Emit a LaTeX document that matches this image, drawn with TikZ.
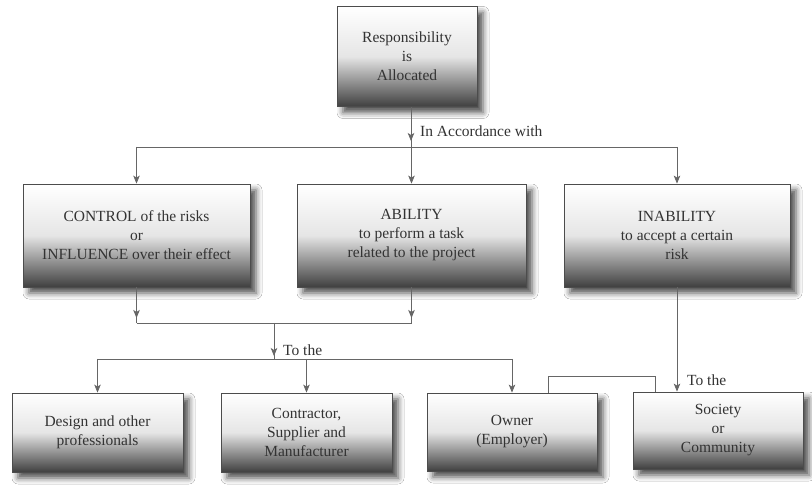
\documentclass[tikz,border=0pt]{standalone}
\usepackage{fontspec}
\setmainfont{Liberation Serif}
\usetikzlibrary{arrows.meta,shadows.blur,decorations.markings,calc}
\begin{document}
\begin{tikzpicture}[x=1pt,y=-1pt,
  box/.style={draw=black!70, line width=0.8pt, top color=white, bottom color=black!75, middle color=black!10,
    blur shadow={shadow xshift=6pt, shadow yshift=-6pt, shadow blur radius=6pt, shadow opacity=70},
    align=center, font=\fontsize{15.5}{19}\selectfont, text=black!80, inner sep=0pt},
  conn/.style={draw=black!60, line width=0.8pt},
  tip/.style={-{Stealth[length=8pt,width=6.5pt,inset=2pt]}},
  midtip/.style={postaction={decorate}, decoration={markings, mark=at position #1 with {\arrow{Stealth[length=8pt,width=6.5pt,inset=2pt]}}}},
  lab/.style={font=\fontsize{15.5}{19}\selectfont, text=black!80, anchor=west, inner sep=0pt}
]
\fill[white] (0,0) rectangle (812,486);
\useasboundingbox (0,0) rectangle (812,486);

\node[box, minimum width=140pt, minimum height=100pt] (top) at (407,56.5) {Responsibility\\is\\Allocated};

\node[box, minimum width=227pt, minimum height=103pt] (mid1) at (136.5,235.5) {CONTROL of the risks\\or\\INFLUENCE over their effect};
\node[box, minimum width=229pt, minimum height=103pt] (mid2) at (411.5,235.5) {ABILITY\\to perform a task\\related to the project};
\node[box, minimum width=226pt, minimum height=103pt] (mid3) at (677,235.5) {INABILITY\\to accept a certain\\risk};

\node[box, minimum width=171pt, minimum height=79pt] (bA) at (97.5,432.5) {Design and other\\professionals};
\node[box, minimum width=171pt, minimum height=79pt] (bB) at (306.5,432.5) {Contractor,\\Supplier and\\Manufacturer};
\node[box, minimum width=170pt, minimum height=78pt] (bC) at (512,432) {Owner\\(Employer)};
\node[box, minimum width=170pt, minimum height=77pt] (bD) at (718,430.5) {Society\\or\\Community};

\coordinate (j1) at (411,147);
\coordinate (j2) at (274,323);
\coordinate (j3) at (274,359);
\coordinate (k1) at (548,376);
\coordinate (k2) at (655,376);

% top to middle row
\draw[conn, midtip=-6pt] (top.south -| j1) -- (j1);
\draw[conn] (j1 -| mid1.north) -- (j1 -| mid3.north);
\draw[conn, tip] (j1 -| mid1.north) -- (mid1.north);
\draw[conn, tip] (j1 -| mid2.north) -- (mid2.north);
\draw[conn, tip] (j1 -| mid3.north) -- (mid3.north);

% middle row to bottom row
\draw[conn, midtip=-5pt] (mid1.south) -- (mid1.south |- j2);
\draw[conn, midtip=-5pt] (mid2.south) -- (mid2.south |- j2);
\draw[conn] (mid1.south |- j2) -- (mid2.south |- j2);
\draw[conn, midtip=-3pt] (j2) -- (j3);
\draw[conn] (j3 -| bA.north) -- (j3 -| bC.north);
\draw[conn, tip] (j3 -| bA.north) -- (bA.north);
\draw[conn, tip] (j3 -| bB.north) -- (bB.north);
\draw[conn, tip] (j3 -| bC.north) -- (bC.north);

% inability to society
\draw[conn, tip] (mid3.south) -- (mid3.south |- bD.north);
% owner - society link
\draw[conn] (bC.north -| k1) -- (k1) -- (k2) -- (bD.north -| k2);

\node[lab] (l1) at (420,131) {In Accordance with};
\node[lab] (l2) at (283,350) {To the};
\node[lab] (l3) at (687,380) {To the};
\end{tikzpicture}
\end{document}
